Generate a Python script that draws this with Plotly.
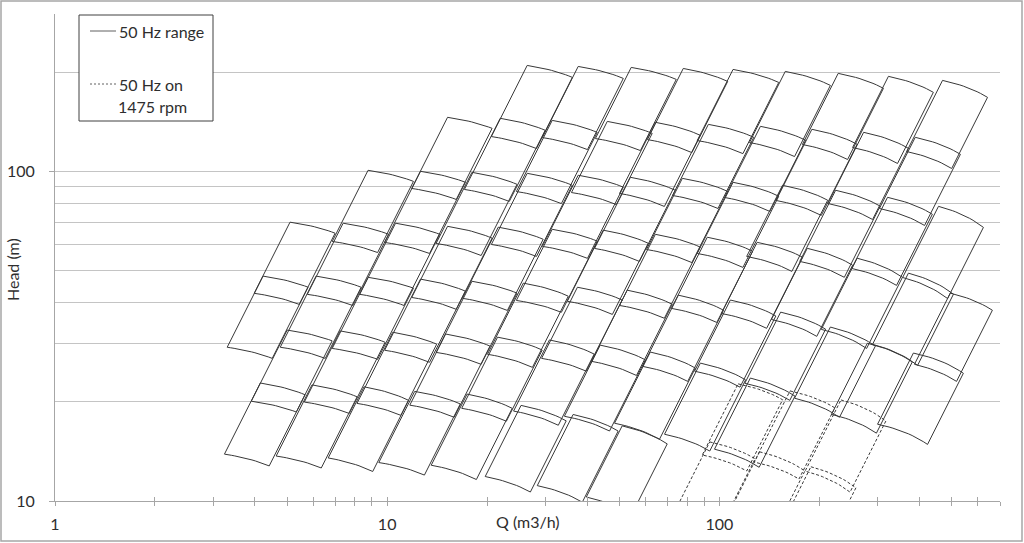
import numpy as np
import plotly.graph_objects as go

# ---- pump tiles (50 Hz, 2900 rpm): max impeller curve from min flow to max flow ----
q_left = [
    26.4, 37.6, 54.3, 77.9, 110, 158, 228, 323, 470,
    15.2, 21.9, 31.4, 46.0, 64.2, 92.7, 133, 190, 272, 389,
    8.76, 12.6, 18.0, 26.4, 37.6, 54.0, 77.4, 110, 155, 224, 321, 457,
    5.10, 7.37, 10.6, 15.2, 21.6, 31.4, 44.7, 64.2, 92.0, 130, 184, 260, 371, 496,
    4.23, 6.11, 8.76, 12.6, 18.0, 25.7, 37.4, 52.8, 75.3, 108, 153, 216, 279, 384,
    5.00, 7.22, 10.4, 15.0, 21.5, 30.8, 43.8, 62.0, 87.7, 124,
    4.15, 5.94, 8.52, 12.1, 17.4, 25.3, 36.3, 51.0,
]
h_left = [
    209.5, 208, 206.6, 205.1, 203.7, 200.9, 198.2, 194.1, 188.7,
    145.8, 144.8, 142.7, 141.7, 140.8, 138.8, 136.9, 134.1, 131.3, 126.8,
    100.7, 100.0, 99.3, 98.6, 97.3, 95.9, 95.2, 92.6, 90.7, 87.6, 83.4, 78.3,
    70.1, 69.6, 69.6, 68.1, 67.7, 66.7, 66.3, 64.4, 63.1, 60.9, 58.4, 54.5, 49.1, 42.7,
    48.1, 48.1, 47.7, 47.1, 46.4, 45.8, 44.5, 43.6, 42.1, 40.7, 37.4, 33.7, 30.1, 28.1,
    33.0, 32.8, 32.5, 32.1, 31.4, 30.8, 29.7, 28.3, 26.2, 23.6,
    22.8, 22.5, 22.2, 21.5, 21.1, 19.5, 18.3, 16.9,
]
q_right = [
    36.1, 51.4, 74.2, 106, 151, 216, 312, 441, 642,
    20.7, 29.9, 42.9, 62.8, 87.6, 127, 182, 260, 371, 532,
    12.0, 17.2, 24.6, 36.1, 51.4, 73.7, 106, 151, 212, 305, 438, 624,
    6.97, 10.1, 14.4, 20.7, 29.5, 42.9, 61.1, 87.6, 126, 178, 252, 356, 507, 664,
    5.78, 8.35, 12.0, 17.2, 24.6, 35.1, 51.0, 72.2, 103, 148, 209, 295, 381, 543,
    6.83, 9.86, 14.1, 20.4, 29.3, 42.0, 59.9, 84.7, 120, 169,
    5.66, 8.12, 11.6, 16.6, 23.8, 34.6, 49.6, 69.7,
]
h_right = [
    192.7, 191.3, 190.0, 187.3, 186.0, 182.2, 178.5, 173.6, 167.6,
    135.0, 133.2, 131.2, 130.3, 128.6, 126.8, 124.2, 120.8, 117.4, 112.6,
    93.2, 92.6, 91.3, 90.7, 89.5, 87.6, 86.9, 84.0, 81.7, 78.4, 74.1, 67.6,
    64.9, 64.4, 64.4, 62.7, 62.2, 61.4, 60.5, 58.9, 57.2, 54.9, 51.9, 47.7, 42.4, 37.9,
    44.5, 44.5, 44.2, 43.3, 42.7, 41.8, 40.7, 39.5, 37.9, 36.4, 33.2, 29.5, 26.4, 24.4,
    30.6, 30.3, 29.9, 29.5, 28.7, 27.9, 26.8, 25.3, 23.3, 20.8,
    21.0, 20.7, 20.2, 19.7, 19.1, 17.5, 16.3, 14.9,
]
trim_ratio = 0.78            # min / max impeller diameter
speed_ratio = 1475 / 2900    # 4-pole versions
low_speed_tiles = [28, 29, 30, 41, 42, 43]

x_ticks = [1, 2, 3, 4, 5, 6, 7, 8, 9, 10, 20, 30, 40, 50, 60, 70, 80, 90,
           100, 200, 300, 400, 500, 600, 700]
x_labels = {1: "1", 10: "10", 100: "100"}
y_grid = [20, 30, 40, 50, 60, 70, 80, 90, 200, 300]


def tile_outline(q1, h1, q2, h2, d, s=1.0):
    qs = np.geomspace(q1, q2, 14)
    n = 3
    b = (h1 - h2) / (q2 ** n - q1 ** n)
    hs = h1 + b * q1 ** n - b * qs ** n
    qs, hs = qs * s, hs * s * s
    xs = list(qs) + list(d * qs[::-1]) + [qs[0], None]
    ys = list(hs) + list(d * d * hs[::-1]) + [hs[0], None]
    return xs, ys


sx, sy, dx, dy = [], [], [], []
for i in range(len(q_left)):
    xs, ys = tile_outline(q_left[i], h_left[i], q_right[i], h_right[i], trim_ratio)
    sx += xs
    sy += ys
for i in low_speed_tiles:
    xs, ys = tile_outline(q_left[i], h_left[i], q_right[i], h_right[i], trim_ratio, speed_ratio)
    dx += xs
    dy += ys

LINE = "#383838"
AX = "#a6a6a6"
GRID = "#c4c4c4"
FONT = "Lato"
TXT = "#2e2e2e"
FS = 16

fig = go.Figure()
fig.add_trace(go.Scatter(x=sx, y=sy, mode="lines", line=dict(color=LINE, width=1),
                         hoverinfo="skip", showlegend=False))
fig.add_trace(go.Scatter(x=dx, y=dy, mode="lines",
                         line=dict(color=LINE, width=1, dash="3px,2px"),
                         hoverinfo="skip", showlegend=False))
fig.add_trace(go.Scatter(x=[1], y=[10], xaxis="x2", mode="markers",
                         marker=dict(size=1, opacity=0), hoverinfo="skip", showlegend=False))

W, H = 1024, 543
L, R, T, B = 55, 24, 14, 42
pw, ph = W - L - R, H - T - B


def px(x):
    return (x - L) / pw


def py(y):
    return (H - B - y) / ph


fig.update_layout(
    width=W, height=H,
    margin=dict(l=L, r=R, t=T, b=B, autoexpand=False),
    paper_bgcolor="white", plot_bgcolor="white",
    font=dict(family=FONT, size=FS, color=TXT),
    showlegend=False,
    xaxis=dict(type="log", range=[0, np.log10(700)], showline=True, linecolor=AX,
               linewidth=1, showgrid=False, zeroline=False, automargin=False,
               tickmode="array", tickvals=x_ticks,
               ticktext=[x_labels.get(v, "") for v in x_ticks],
               ticks="outside", ticklen=4, tickcolor=AX, ticklabelstandoff=5,
               tickfont=dict(family=FONT, size=FS, color=TXT)),
    xaxis2=dict(type="log", range=[0, np.log10(700)], overlaying="x", side="bottom",
                showline=False, showgrid=False, zeroline=False, automargin=False,
                tickmode="array", tickvals=x_ticks, showticklabels=False,
                ticks="inside", ticklen=4, tickcolor=AX),
    yaxis=dict(type="log", range=[1, np.log10(300)], showline=True, linecolor=AX,
               linewidth=1, zeroline=False, showgrid=True, gridcolor=GRID, gridwidth=1,
               automargin=False,
               tickmode="array", tickvals=[10, 100], ticktext=["10", "100"],
               ticks="outside", ticklen=5, tickcolor=AX, ticklabelstandoff=11,
               tickfont=dict(family=FONT, size=FS, color=TXT),
               minor=dict(tickmode="array", tickvals=y_grid, showgrid=True,
                          gridcolor=GRID, gridwidth=1, ticks="")),
)

shapes = [
    dict(type="rect", xref="paper", yref="paper", x0=px(1), x1=px(1022), y0=py(541), y1=py(1),
         line=dict(color=AX, width=1.5), layer="above"),
    dict(type="rect", xref="paper", yref="paper", x0=px(79), x1=px(213), y0=py(121), y1=py(15),
         line=dict(color="#404040", width=1), fillcolor="white", layer="above"),
    dict(type="line", xref="paper", yref="paper", x0=px(90), x1=px(116), y0=py(31), y1=py(31),
         line=dict(color="#606060", width=1), layer="above"),
    dict(type="line", xref="paper", yref="paper", x0=px(90), x1=px(116), y0=py(84), y1=py(84),
         line=dict(color="#606060", width=1, dash="2px,2px"), layer="above"),
]
annotations = [
    dict(text="50 Hz range", x=px(117), y=py(31)),
    dict(text="50 Hz on", x=px(117), y=py(84)),
    dict(text="1475 rpm", x=px(116), y=py(106)),
]
annotations = [dict(a, xref="paper", yref="paper", xanchor="left", yanchor="middle",
                    showarrow=False, font=dict(family=FONT, size=FS, color=TXT))
               for a in annotations]
annotations += [
    dict(text="Head (m)", x=px(12), y=py(270), xref="paper", yref="paper", textangle=-90,
         showarrow=False, xanchor="center", yanchor="middle",
         font=dict(family=FONT, size=FS, color=TXT)),
    dict(text="Q (m3/h)", x=px(528), y=py(521), xref="paper", yref="paper",
         showarrow=False, xanchor="center", yanchor="middle",
         font=dict(family=FONT, size=FS, color=TXT)),
]
fig.update_layout(shapes=shapes, annotations=annotations)

fig.write_html("out.html", config={"displayModeBar": False},
               post_script="document.body.style.margin='0';document.body.style.padding='0';")
